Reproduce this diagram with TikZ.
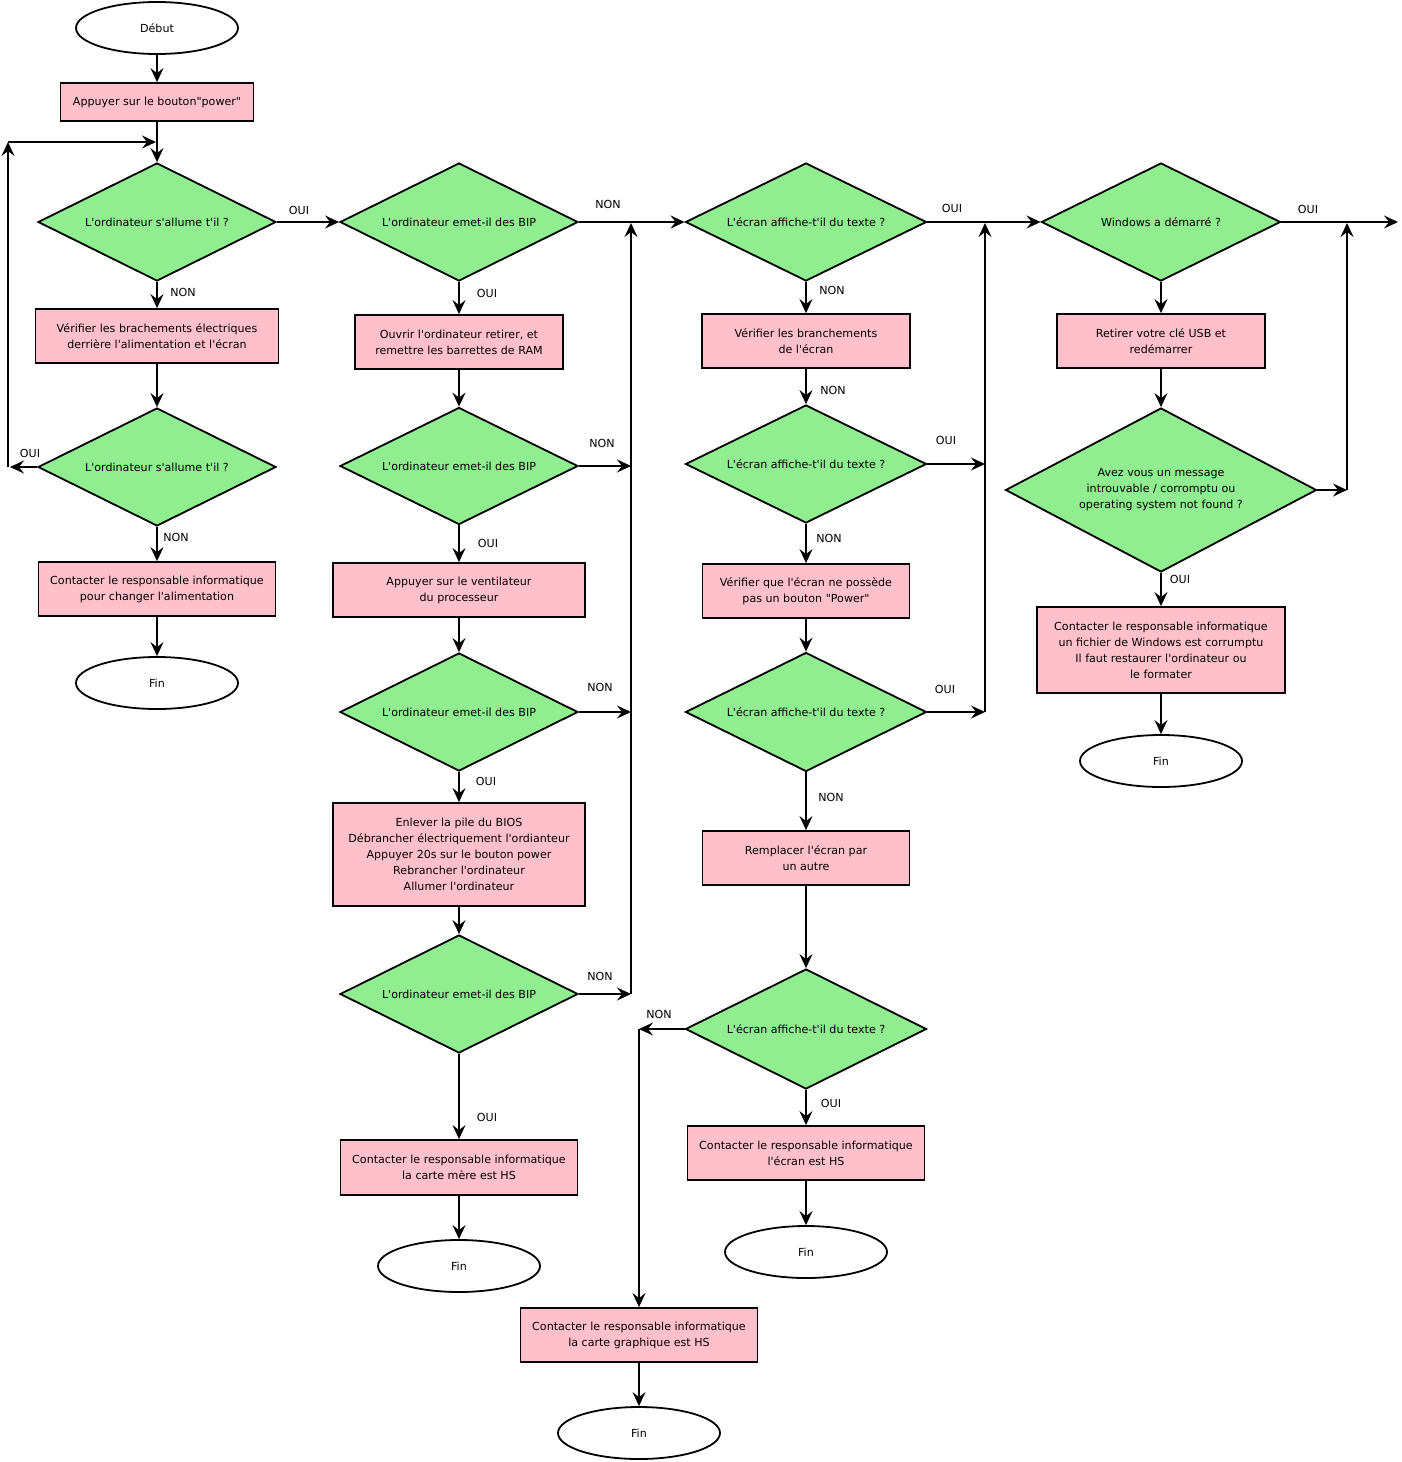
\documentclass[tikz,border=0pt]{standalone}
\usepackage{fontspec}
\setmainfont{DejaVu Sans}[Ligatures=TeXOff]
\usetikzlibrary{shapes.geometric,arrows.meta}
\definecolor{boxpink}{HTML}{FFC0CB}
\definecolor{decgreen}{HTML}{90EE90}
\tikzset{
  base/.style={draw, line width=1.8pt, font=\fontsize{11.1}{16}\selectfont, align=center, inner sep=0pt},
  box/.style={base, rectangle, fill=boxpink},
  dec/.style={base, diamond, aspect=2, fill=decgreen},
  term/.style={base, ellipse, fill=white, minimum width=162pt, minimum height=52pt},
  lbl/.style={font=\fontsize{11.1}{12}\selectfont, inner sep=0pt},
  arr/.style={line width=1.8pt, -{Stealth[length=14pt,width=13pt,inset=5pt]}}
}
\begin{document}
\begin{tikzpicture}[x=1pt,y=-1pt]
\useasboundingbox (0,0) rectangle (1401,1462);
% column 1
\node[term] (start) at (157,28) {Début};
\node[box, minimum width=193pt, minimum height=38pt] (power) at (157,102) {Appuyer sur le bouton"power"};
\node[dec, minimum width=238pt, minimum height=118pt] (d1) at (157,222) {L'ordinateur s'allume t'il ?};
\node[box, minimum width=243pt, minimum height=54pt] (verif) at (157,336) {Vérifier les brachements électriques\\derrière l'alimentation et l'écran};
\node[dec, minimum width=238pt, minimum height=118pt] (d2) at (157,467) {L'ordinateur s'allume t'il ?};
\node[box, minimum width=237pt, minimum height=54pt] (contact1) at (157,589) {Contacter le responsable informatique\\pour changer l'alimentation};
\node[term] (fin1) at (157,683) {Fin};
% column 2
\node[dec, minimum width=238pt, minimum height=118pt] (b1) at (459,222) {L'ordinateur emet-il des BIP};
\node[box, minimum width=208pt, minimum height=54pt] (ram) at (459,342) {Ouvrir l'ordinateur retirer, et\\remettre les barrettes de RAM};
\node[dec, minimum width=238pt, minimum height=117pt] (b2) at (459,466) {L'ordinateur emet-il des BIP};
\node[box, minimum width=252pt, minimum height=54pt] (vent) at (459,590) {Appuyer sur le ventilateur\\du processeur};
\node[dec, minimum width=238pt, minimum height=118pt] (b3) at (459,712) {L'ordinateur emet-il des BIP};
\node[box, minimum width=252pt, minimum height=103pt] (bios) at (459,854.5) {Enlever la pile du BIOS\\Débrancher électriquement l'ordianteur\\Appuyer 20s sur le bouton power\\Rebrancher l'ordinateur\\Allumer l'ordinateur};
\node[dec, minimum width=238pt, minimum height=118pt] (b4) at (459,994) {L'ordinateur emet-il des BIP};
\node[box, minimum width=237pt, minimum height=55pt] (cm) at (459,1167.5) {Contacter le responsable informatique\\la carte mère est HS};
\node[term] (fin2) at (459,1266) {Fin};
% column 3
\node[dec, minimum width=241pt, minimum height=118pt] (c1) at (806,222) {L'écran affiche-t'il du texte ?};
\node[box, minimum width=208pt, minimum height=54pt] (branch) at (806,341) {Vérifier les branchements\\de l'écran};
\node[dec, minimum width=241pt, minimum height=118pt] (c2) at (806,464) {L'écran affiche-t'il du texte ?};
\node[box, minimum width=207pt, minimum height=54pt] (bouton) at (806,591) {Vérifier que l'écran ne possède\\pas un bouton "Power"};
\node[dec, minimum width=241pt, minimum height=119pt] (c3) at (806,712) {L'écran affiche-t'il du texte ?};
\node[box, minimum width=207pt, minimum height=54pt] (rempl) at (806,858) {Remplacer l'écran par\\un autre};
\node[dec, minimum width=241pt, minimum height=120pt] (c4) at (806,1029) {L'écran affiche-t'il du texte ?};
\node[box, minimum width=237pt, minimum height=54pt] (ecranhs) at (806,1153) {Contacter le responsable informatique\\l'écran est HS};
\node[term] (fin3) at (806,1252) {Fin};
\node[box, minimum width=237pt, minimum height=54pt] (cg) at (639,1335) {Contacter le responsable informatique\\la carte graphique est HS};
\node[term] (fin4) at (639,1433) {Fin};
% column 4
\node[dec, minimum width=239pt, minimum height=118pt] (w1) at (1161,222) {Windows a démarré ?};
\node[box, minimum width=208pt, minimum height=54pt] (usb) at (1161,341) {Retirer votre clé USB et\\redémarrer};
\node[dec, minimum width=311pt, minimum height=164pt] (w2) at (1161,490) {Avez vous un message\\introuvable / corromptu ou\\operating system not found ?};
\node[box, minimum width=248pt, minimum height=86pt] (corr) at (1161,650) {Contacter le responsable informatique\\un fichier de Windows est corrumptu\\Il faut restaurer l'ordinateur ou\\le formater};
\node[term] (fin5) at (1161,761) {Fin};
% free ends
\coordinate (loopA) at (10,467);
\coordinate (loopB) at (8,467);
\coordinate (loopC) at (8,142);
\coordinate (loopD) at (156,142);
\coordinate (j2a) at (631,466);
\coordinate (j2b) at (631,712);
\coordinate (j2c) at (631,994);
\coordinate (j2t) at (631,223);
\coordinate (j3a) at (985,464);
\coordinate (j3b) at (985,712);
\coordinate (j3t) at (985,223);
\coordinate (j4a) at (639,1029);
\coordinate (j5a) at (1347,490);
\coordinate (j5t) at (1347,223);
\coordinate (outR) at (1398,222);
% connectors column 1
\draw[arr] (start) -- (power);
\draw[arr] (power) -- (d1);
\draw[arr] (d1) -- (b1);
\draw[arr] (d1) -- (verif);
\draw[arr] (verif) -- (d2);
\draw[arr] (d2.west) -- (loopA);
\draw[arr] (loopB) -- (loopC);
\draw[arr] (loopC) -- (loopD);
\draw[arr] (d2) -- (contact1);
\draw[arr] (contact1) -- (fin1);
% column 2
\draw[arr] (b1) -- (c1);
\draw[arr] (b1) -- (ram);
\draw[arr] (ram) -- (b2);
\draw[arr] (b2.east) -- (j2a);
\draw[arr] (b2) -- (vent);
\draw[arr] (vent) -- (b3);
\draw[arr] (b3.east) -- (j2b);
\draw[arr] (b3) -- (bios);
\draw[arr] (bios) -- (b4);
\draw[arr] (b4.east) -- (j2c);
\draw[arr] (j2c) -- (j2t);
\draw[arr] (b4) -- (cm);
\draw[arr] (cm) -- (fin2);
% column 3
\draw[arr] (c1) -- (w1);
\draw[arr] (c1) -- (branch);
\draw[arr] (branch) -- (c2);
\draw[arr] (c2.east) -- (j3a);
\draw[arr] (c2) -- (bouton);
\draw[arr] (bouton) -- (c3);
\draw[arr] (c3.east) -- (j3b);
\draw[arr] (j3b) -- (j3t);
\draw[arr] (c3) -- (rempl);
\draw[arr] (rempl) -- (c4);
\draw[arr] (c4.west) -- (j4a);
\draw[arr] (j4a) -- (cg);
\draw[arr] (c4) -- (ecranhs);
\draw[arr] (ecranhs) -- (fin3);
\draw[arr] (cg) -- (fin4);
% column 4
\draw[arr] (w1.east) -- (outR);
\draw[arr] (w1) -- (usb);
\draw[arr] (usb) -- (w2);
\draw[arr] (w2.east) -- (j5a);
\draw[arr] (j5a) -- (j5t);
\draw[arr] (w2) -- (corr);
\draw[arr] (corr) -- (fin5);
% labels
\node[lbl] (l1) at (299,210) {OUI};
\node[lbl] (l2) at (183,292) {NON};
\node[lbl] (l3) at (30,453) {OUI};
\node[lbl] (l4) at (176,537) {NON};
\node[lbl] (l5) at (608,204) {NON};
\node[lbl] (l6) at (487,293) {OUI};
\node[lbl] (l7) at (602,443) {NON};
\node[lbl] (l8) at (488,543) {OUI};
\node[lbl] (l9) at (600,687) {NON};
\node[lbl] (l10) at (486,781) {OUI};
\node[lbl] (l11) at (600,976) {NON};
\node[lbl] (l12) at (487,1117) {OUI};
\node[lbl] (l13) at (952,208) {OUI};
\node[lbl] (l14) at (832,290) {NON};
\node[lbl] (l15) at (833,390) {NON};
\node[lbl] (l16) at (946,440) {OUI};
\node[lbl] (l17) at (829,538) {NON};
\node[lbl] (l18) at (945,689) {OUI};
\node[lbl] (l19) at (831,797) {NON};
\node[lbl] (l20) at (659,1014) {NON};
\node[lbl] (l21) at (831,1103) {OUI};
\node[lbl] (l22) at (1308,209) {OUI};
\node[lbl] (l23) at (1180,579) {OUI};
\end{tikzpicture}
\end{document}
